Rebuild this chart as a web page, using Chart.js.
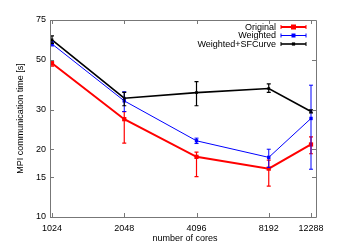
<!DOCTYPE html>
<html><head><meta charset="utf-8">
<script src="https://cdn.jsdelivr.net/npm/chart.js@4/dist/chart.umd.min.js"></script>
<style>html,body{margin:0;padding:0;background:#fff}#c{display:block}</style>
</head><body>
<div style="width:346px;height:245px"><canvas id="c" width="346" height="245"></canvas></div>
<script>
const cores = [1024, 2048, 4096, 8192, 12288];
const xTicks = [1024, 2048, 4096, 8192, 12288];
const yTicks = [10, 15, 20, 30, 50, 75];
const seriesNames = ['Original', 'Weighted', 'Weighted+SFCurve'];
const original = [48.2, 27.2, 18.5, 16.4, 21.0];
const originalLow = [46.8, 21.3, 15.1, 13.7, 19.1];
const originalHigh = [49.5, 29.4, 19.4, 17.9, 22.7];
const weighted = [58.7, 32.8, 21.8, 18.4, 27.4];
const weightedLow = [57.5, 29.4, 21.2, 16.6, 16.3];
const weightedHigh = [60.0, 36.0, 22.4, 20.0, 38.5];
const sfcurve = [61.2, 33.7, 35.7, 37.2, 29.4];
const sfcurveLow = [59.0, 31.2, 31.2, 35.8, 29.0];
const sfcurveHigh = [63.7, 35.8, 39.9, 39.0, 29.9];

const FONT = '"Liberation Sans", Arial, sans-serif';
const colors = ['#ff0000', '#0000ff', '#000000'];
const widths = [2, 1, 1.6];
const radii = [2.5, 2, 1.6];

function mk(vals) { return cores.map((c, i) => ({x: c, y: vals[i]})); }
const errs = [[originalLow, originalHigh], [weightedLow, weightedHigh], [sfcurveLow, sfcurveHigh]];
const allVals = [original, weighted, sfcurve];

const frame = {
  id: 'frame',
  afterDraw(chart) {
    const ctx = chart.ctx, a = chart.chartArea;
    const xs = chart.scales.x, ys = chart.scales.y;
    ctx.save();
    ctx.strokeStyle = '#777';
    ctx.lineWidth = 1;
    ctx.beginPath();
    ctx.rect(Math.round(a.left) + 0.5, Math.round(a.top) + 0.5, Math.round(a.right - a.left), Math.round(a.bottom - a.top));
    ctx.stroke();
    ctx.beginPath();
    xTicks.forEach(v => {
      const p = Math.round(xs.getPixelForValue(v)) + 0.5;
      ctx.moveTo(p, a.bottom); ctx.lineTo(p, a.bottom - 4);
      ctx.moveTo(p, a.top); ctx.lineTo(p, a.top + 4);
    });
    yTicks.forEach(v => {
      const p = Math.round(ys.getPixelForValue(v)) + 0.5;
      ctx.moveTo(a.left, p); ctx.lineTo(a.left + 4, p);
      ctx.moveTo(a.right, p); ctx.lineTo(a.right - 4, p);
    });
    ctx.stroke();
    // axis titles
    ctx.fillStyle = '#000';
    ctx.font = '9px ' + FONT;
    ctx.textAlign = 'center';
    ctx.textBaseline = 'middle';
    ctx.fillText('number of cores', (a.left + a.right) / 2 + 2, 239);
    ctx.translate(21, (a.top + a.bottom) / 2);
    ctx.rotate(-Math.PI / 2);
    ctx.fillText('MPI communication time [s]', 0, 0);
    ctx.restore();
  },
  afterDatasetsDraw(chart) {
    const ctx = chart.ctx;
    const xs = chart.scales.x, ys = chart.scales.y;
    ctx.save();
    [0, 1, 2].forEach(s => {
      ctx.strokeStyle = colors[s];
      ctx.lineWidth = s === 1 ? 1 : 1.2;
      ctx.beginPath();
      cores.forEach((c, i) => {
        const px = xs.getPixelForValue(c);
        const lo = ys.getPixelForValue(errs[s][0][i]);
        const hi = ys.getPixelForValue(errs[s][1][i]);
        ctx.moveTo(px, lo); ctx.lineTo(px, hi);
        ctx.moveTo(px - 2, lo); ctx.lineTo(px + 2, lo);
        ctx.moveTo(px - 2, hi); ctx.lineTo(px + 2, hi);
      });
      ctx.stroke();
    });
    // legend
    const rows = [27, 35.5, 44];
    ctx.font = '9px ' + FONT;
    ctx.textAlign = 'right';
    ctx.textBaseline = 'middle';
    seriesNames.forEach((n, s) => {
      const y = rows[s];
      ctx.fillStyle = '#000';
      ctx.fillText(n, 276, y + 0.5);
      ctx.strokeStyle = colors[s];
      ctx.lineWidth = widths[s];
      ctx.beginPath();
      ctx.moveTo(281, y); ctx.lineTo(306, y);
      ctx.stroke();
      ctx.lineWidth = 1;
      ctx.beginPath();
      ctx.moveTo(281, y - 2); ctx.lineTo(281, y + 2);
      ctx.moveTo(306, y - 2); ctx.lineTo(306, y + 2);
      ctx.stroke();
      ctx.fillStyle = colors[s];
      const r = radii[s];
      ctx.fillRect(293.5 - r, y - r, 2 * r, 2 * r);
    });
    ctx.restore();
  }
};

new Chart(document.getElementById('c'), {
  type: 'line',
  data: {
    datasets: [0, 1, 2].map(s => ({
      label: seriesNames[s],
      data: mk(allVals[s]),
      borderColor: colors[s],
      backgroundColor: colors[s],
      borderWidth: widths[s],
      pointStyle: 'rect',
      pointRadius: radii[s] * 1.2,
      pointBorderWidth: 0,
      order: 2 - s,
      tension: 0
    }))
  },
  options: {
    responsive: false,
    animation: false,
    devicePixelRatio: 1,
    layout: {padding: {left: 0, right: 30, top: 20, bottom: 0}},
    plugins: {legend: {display: false}, tooltip: {enabled: false}},
    scales: {
      x: {
        type: 'logarithmic',
        min: 1004.5, max: 12890,
        afterBuildTicks: sc => { sc.ticks = xTicks.map(v => ({value: v})); },
        afterFit: sc => { sc.height = 28; },
        grid: {display: false, drawTicks: false},
        border: {display: false},
        ticks: {
          color: '#000', font: {family: FONT, size: 9}, padding: 6,
          maxRotation: 0, autoSkip: false,
          callback: v => String(v)
        }
      },
      y: {
        type: 'logarithmic',
        min: 10, max: 75,
        afterBuildTicks: sc => { sc.ticks = yTicks.map(v => ({value: v})); },
        afterFit: sc => { sc.width = 50; },
        grid: {display: false, drawTicks: false},
        border: {display: false},
        ticks: {
          color: '#000', font: {family: FONT, size: 9}, padding: 4,
          autoSkip: false,
          callback: v => String(v)
        }
      }
    }
  },
  plugins: [frame]
});
</script>
</body></html>
